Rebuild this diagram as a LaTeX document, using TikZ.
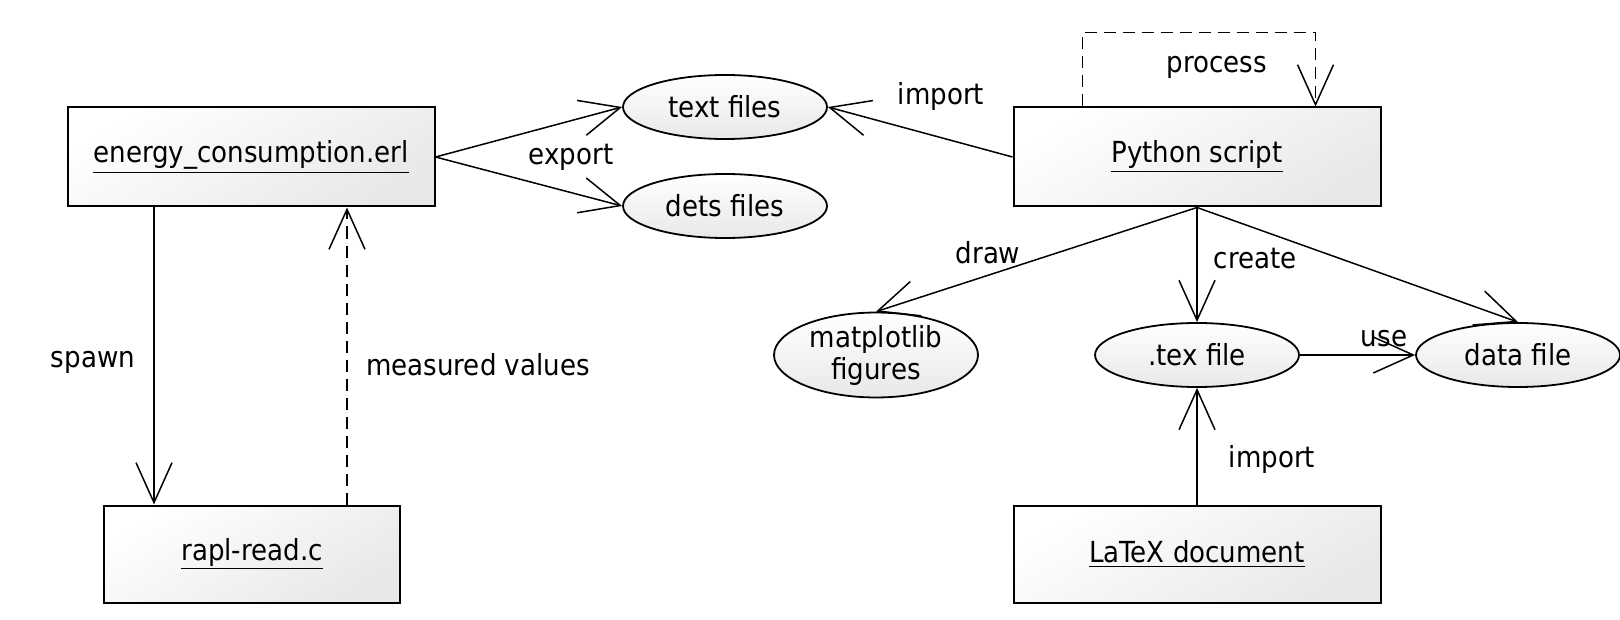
\documentclass[tikz,border=0pt]{standalone}
\usepackage{fontspec}
\setmainfont{DejaVu Sans Condensed}
\usepackage{tikz}
\usetikzlibrary{arrows.meta, shapes.geometric}

\tikzset{
  comp/.style={draw, line width=1pt, top color=white, bottom color=black!9, shading angle=30, minimum width=183.5pt, minimum height=49.5pt, inner sep=0pt},
  artf/.style={draw, ellipse, line width=0.9pt, top color=white, bottom color=black!9, minimum width=102pt, minimum height=32pt, inner sep=0pt, align=center},
  lbl/.style={inner sep=0pt},
  flow/.style={line width=0.75pt, -{Straight Barb[length=20pt, width=18pt, line width=0.75pt]}},
  dep/.style={flow, dashed, dash pattern=on 6pt off 3.5pt}
}

\begin{document}
\begin{tikzpicture}[x=0.5pt, y=-0.5pt, font=\fontsize{14.5}{16}\selectfont]
  \useasboundingbox (0,0) rectangle (1620,620);

  % Components
  \node[comp] (erl) at (251,157) {\underline{energy\_consumption.erl}};
  \node[comp, minimum width=148pt, minimum height=48.5pt] (rapl) at (252,554) {\underline{rapl-read.c}};
  \node[comp] (py) at (1197,157) {\underline{Python script}};
  \node[comp, minimum height=48.5pt] (latex) at (1197,554) {\underline{LaTeX document}};

  % Files
  \node[artf] (txt) at (725,107) {text files};
  \node[artf] (dets) at (725,206) {dets files};
  \node[artf] (mpl) at (876,355) {matplotlib\\figures};
  \node[artf] (tex) at (1197,355) {.tex file};
  \node[artf] (data) at (1518,355) {data file};

  % Erlang side
  \draw[flow] (erl.east) -- (txt.west);
  \draw[flow] (erl.east) -- (dets.west);
  \coordinate (spawnA) at ([xshift=-48.5pt]erl.south);
  \draw[flow] (spawnA) -- (spawnA |- rapl.north);
  \coordinate (measA) at ([xshift=47.5pt]rapl.north);
  \draw[dep] (measA) -- (measA |- erl.south);

  % Python side
  \draw[flow] (py.west) -- (txt.east);
  \coordinate (procA) at ([xshift=35pt]py.north west);
  \coordinate (procB) at ([xshift=-33pt]py.north east);
  \draw[dep] (procA) -- ++(0,-74) -| (procB);
  \draw[flow] (py.south) -- (mpl.north);
  \draw[flow] (py.south) -- (tex.north);
  \draw[flow] (py.south) -- (data.north);
  \draw[flow] (tex.east) -- (data.west);
  \draw[flow] (latex.north) -- (tex.south);

  % Labels
  \node[lbl] (lexport) at (571,157) {export};
  \node[lbl] (limport) at (941,97) {import};
  \node[lbl] (lprocess) at (1217,67) {process};
  \node[lbl] (ldraw) at (988,253) {draw};
  \node[lbl] (lcreate) at (1255,259) {create};
  \node[lbl] (luse) at (1384,339) {use};
  \node[lbl] (limport2) at (1272,459) {import};
  \node[lbl] (lspawn) at (93,362) {spawn};
  \node[lbl] (lmeas) at (478,365) {measured values};
\end{tikzpicture}
\end{document}
